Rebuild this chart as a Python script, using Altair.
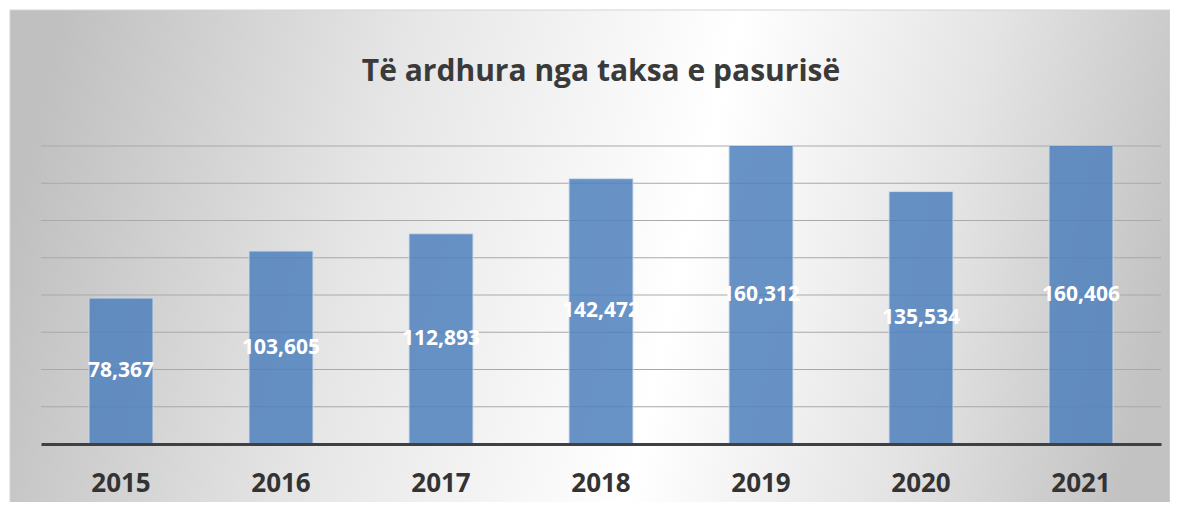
import altair as alt
import pandas as pd

years = ["2015", "2016", "2017", "2018", "2019", "2020", "2021"]
values = [78367, 103605, 112893, 142472, 160312, 135534, 160406]
grid_ticks = [20000, 40000, 60000, 80000, 100000, 120000, 140000, 160000]
y_max = 160000
title_text = "Të ardhura nga taksa e pasurisë"

df = pd.DataFrame({"year": years, "value": values})
grid_df = pd.DataFrame({"tick": grid_ticks})

W, H = 1120, 298

bg = alt.Chart(alt.Data(values=[{}])).mark_rect(
    fill=alt.Gradient(
        gradient="linear",
        x1=0, y1=0.45, x2=1, y2=0.55,
        stops=[
            alt.GradientStop(color="#c0c0c0", offset=0),
            alt.GradientStop(color="#e6e6e6", offset=0.3),
            alt.GradientStop(color="#ffffff", offset=0.58),
            alt.GradientStop(color="#e4e4e4", offset=0.8),
            alt.GradientStop(color="#c2c2c2", offset=1),
        ],
    ),
    stroke="#d4d4d4",
    strokeWidth=1,
).encode(
    x=alt.value(-31), x2=alt.value(1129), y=alt.value(-136), y2=alt.value(360)
)

title = alt.Chart(alt.Data(values=[{"t": title_text}])).mark_text(
    font="Open Sans", fontSize=30, fontWeight="bold", color="#3a3a3a",
    align="center", baseline="alphabetic",
).encode(
    x=alt.value(W / 2), y=alt.value(-65), text="t:N"
)

y_scale = alt.Scale(domain=[0, y_max], nice=False)

grid = alt.Chart(grid_df).mark_rule(color="#a9a9a9", strokeWidth=1.2).encode(
    y=alt.Y("tick:Q", scale=y_scale, axis=None)
)

x_enc = alt.X(
    "year:N",
    sort=years,
    scale=alt.Scale(paddingInner=0.6, paddingOuter=0.3),
    axis=alt.Axis(
        title=None,
        labelAngle=0,
        labelFont="Open Sans",
        labelFontSize=26,
        labelFontWeight="bold",
        labelColor="#333333",
        labelPadding=26,
        ticks=False,
        domainColor="#404040",
        domainWidth=3,
        grid=False,
        zindex=1,
    ),
)

bars = alt.Chart(df).mark_bar(
    color="#4F81BD", opacity=0.85, stroke="#c9d8ec", strokeWidth=1, clip=True
).encode(
    x=x_enc,
    y=alt.Y("value:Q", scale=y_scale, axis=None),
)

labels = alt.Chart(df).transform_calculate(
    mid=f"min(datum.value, {y_max}) / 2"
).mark_text(
    font="Open Sans", fontSize=21, fontWeight="bold", color="white",
    align="center", baseline="middle",
).encode(
    x=alt.X("year:N", sort=years),
    y=alt.Y("mid:Q", scale=y_scale, axis=None),
    text=alt.Text("value:Q", format=","),
)

chart = alt.layer(bg, title, grid, bars, labels).properties(
    width=W,
    height=H,
    autosize=alt.AutoSizeParams(type="none"),
    padding={"left": 33, "top": 138, "right": 9, "bottom": 58},
).configure_view(stroke=None).configure(background="white")

chart.save("out.html", embed_options={"renderer": "svg", "actions": False})
